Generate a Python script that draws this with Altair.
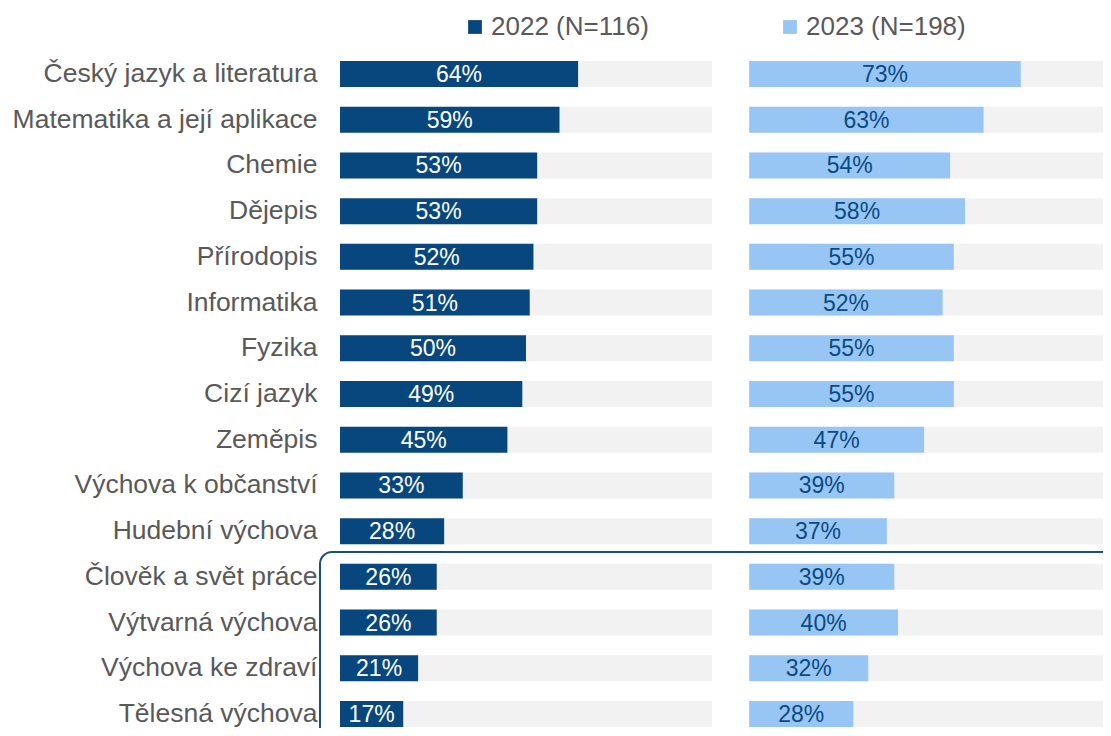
import altair as alt
import pandas as pd

subjects = [
    "Český jazyk a literatura",
    "Matematika a její aplikace",
    "Chemie",
    "Dějepis",
    "Přírodopis",
    "Informatika",
    "Fyzika",
    "Cizí jazyk",
    "Zeměpis",
    "Výchova k občanství",
    "Hudební výchova",
    "Člověk a svět práce",
    "Výtvarná výchova",
    "Výchova ke zdraví",
    "Tělesná výchova",
]
v2022 = [64, 59, 53, 53, 52, 51, 50, 49, 45, 33, 28, 26, 26, 21, 17]
v2023 = [73, 63, 54, 58, 55, 52, 55, 55, 47, 39, 37, 39, 40, 32, 28]
years = ["2022 (N=116)", "2023 (N=198)"]
year_colors = ["#08477e", "#97c6f5"]
highlighted = "Člověk a svět práce"

FONT = "Liberation Sans"
GREY = "#595959"
PANEL_OFFSET = 110  # start of the 2023 panel, in percent units of the x scale

rows = []
for s, a, b in zip(subjects, v2022, v2023):
    rows.append({"subject": s, "year": years[0], "value": a})
    rows.append({"subject": s, "year": years[1], "value": b})
df = pd.DataFrame(rows)

base = alt.Chart(df).transform_calculate(
    start=f"datum.year == '{years[1]}' ? {PANEL_OFFSET} : 0",
).transform_calculate(
    end="datum.start + datum.value",
    full="datum.start + 100",
    mid="datum.start + datum.value / 2",
    label="datum.value + '%'",
    lcolor=f"datum.year == '{years[0]}' ? '#ffffff' : '#0b4a80'",
)

xscale = alt.Scale(domain=[0, 205.1], nice=False, zero=False)
Y = alt.Y(
    "subject:N",
    sort=subjects,
    scale=alt.Scale(paddingInner=0.431, paddingOuter=0, range=[0, 666]),
    axis=alt.Axis(
        title=None, ticks=False, domain=False, labelFontSize=26.5,
        labelColor=GREY, labelFont=FONT, labelPadding=23, labelLimit=400,
    ),
)

bg = base.mark_bar(color="#f2f2f2").encode(
    x=alt.X("start:Q", scale=xscale, axis=None), x2="full:Q", y=Y
)
bars = base.mark_bar().encode(
    x=alt.X("start:Q", scale=xscale, axis=None),
    x2="end:Q",
    y=Y,
    color=alt.Color(
        "year:N",
        scale=alt.Scale(domain=years, range=year_colors),
        legend=alt.Legend(
            title=None, orient="none", legendX=122, legendY=-47,
            direction="horizontal", symbolType="square", symbolSize=190,
            symbolStrokeWidth=0, labelFontSize=26, labelFont=FONT,
            labelColor=GREY, columnPadding=128, labelOffset=3,
        ),
    ),
)
labels = base.mark_text(fontSize=23, font=FONT, baseline="middle", dy=1).encode(
    x=alt.X("mid:Q", scale=xscale, axis=None),
    y=Y,
    text="label:N",
    color=alt.Color("lcolor:N", scale=None),
)
frame = alt.Chart(pd.DataFrame({"subject": [highlighted]})).mark_rect(
    fillOpacity=0, stroke="#1b4f7e", strokeWidth=2, cornerRadius=12
).encode(
    x=alt.value(-20), x2=alt.value(800), y=alt.value(491), y2=alt.value(760)
)

chart = alt.layer(bg, bars, labels, frame).properties(
    width=763,
    height=667,
    padding={"left": 332, "top": 53, "right": 0, "bottom": 0},
    autosize=alt.AutoSizeParams(type="none"),
).configure_view(strokeWidth=0)

chart.save("out.html", embed_options={"renderer": "svg", "actions": False})
